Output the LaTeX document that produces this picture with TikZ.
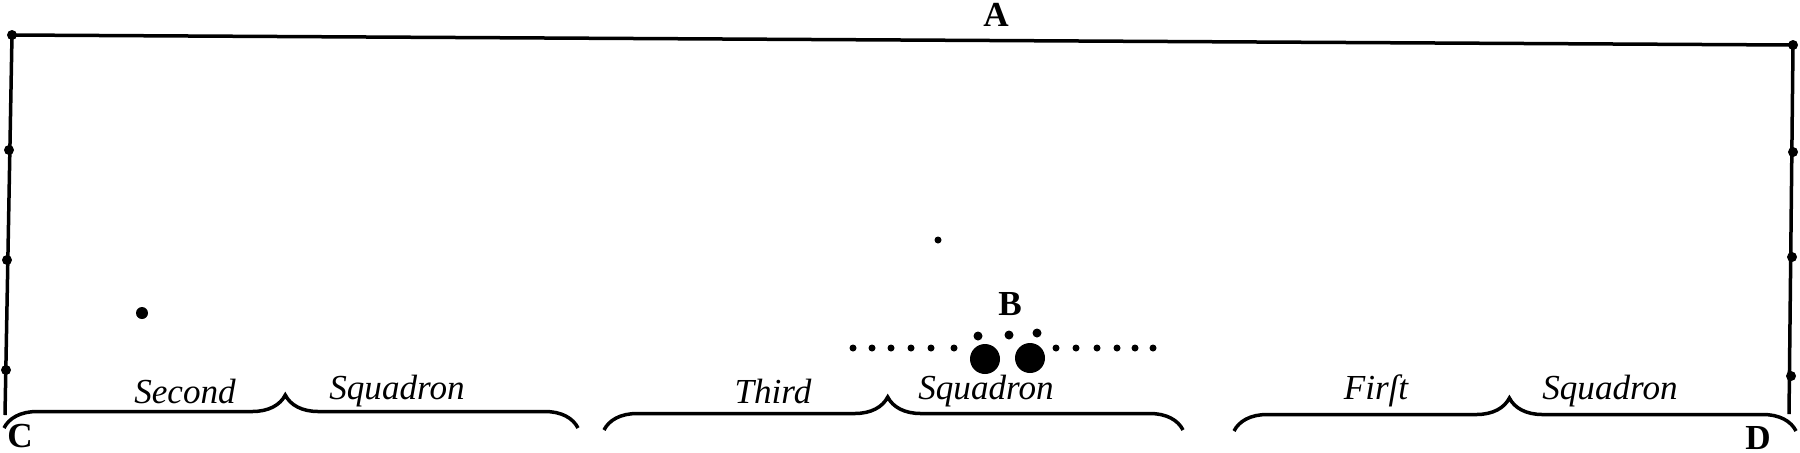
\documentclass[tikz,border=0pt]{standalone}
\usepackage{fontspec}
\setmainfont{Liberation Serif}
\usetikzlibrary{decorations.pathreplacing}

\tikzset{
  squadbrace/.style={decorate,decoration={brace,amplitude=3.3mm,aspect=0.49},line width=0.35mm},
  squadlabel/.style={font=\fontsize{10}{12}\selectfont\itshape,inner sep=0pt},
  pointlabel/.style={font=\fontsize{10}{12}\selectfont\bfseries,inner sep=0pt},
  post/.style={circle,fill,inner sep=0pt,minimum size=1mm},
  file/.style={circle,fill,inner sep=0pt,minimum size=0.7mm},
  rank/.style={circle,fill,inner sep=0pt,minimum size=0.9mm},
  horse/.style={circle,fill,inner sep=0pt,minimum size=3mm},
}

\begin{document}
\begin{tikzpicture}[x=0.1mm,y=-0.1mm]
  \useasboundingbox (0,0) rectangle (1800,452);

  % the field
  \coordinate (tl) at (12,35);
  \coordinate (tr) at (1793,45);
  \coordinate (bl) at (5,415);
  \coordinate (br) at (1789,414);
  \draw [line width=0.35mm] (bl) -- (tl) -- (tr) -- (br);
  \node [post] (l0) at (tl) {};
  \node [post] (l1) at (9,150) {};
  \node [post] (l2) at (7,260) {};
  \node [post] (l3) at (6,370) {};
  \node [post] (r0) at (tr) {};
  \node [post] (r1) at (1793,152) {};
  \node [post] (r2) at (1792,257) {};
  \node [post] (r3) at (1791,376) {};

  \node [pointlabel] (A) at (996,15) {A};
  \node [pointlabel] (B) at (1010,304) {B};
  \node [pointlabel] (C) at (20,436) {C};
  \node [pointlabel] (D) at (1758,438) {D};

  % the squadrons
  \coordinate (s2l) at (4,428);
  \coordinate (s2r) at (578,428);
  \coordinate (s3l) at (604,430);
  \coordinate (s3r) at (1183,430);
  \coordinate (s1l) at (1234,431);
  \coordinate (s1r) at (1796,431);
  \draw [squadbrace] (s2l) -- (s2r);
  \draw [squadbrace] (s3l) -- (s3r);
  \draw [squadbrace] (s1l) -- (s1r);

  \node [squadlabel] (second) at (185,391) {Second};
  \node [squadlabel] (sq2) at (397,391) {Squadron};
  \node [squadlabel] (third) at (773,391) {Third};
  \node [squadlabel] (sq3) at (986,391) {Squadron};
  \node [squadlabel] (first) at (1376,391) {Firſt};
  \node [squadlabel] (sq1) at (1610,391) {Squadron};

  % the line at B
  \foreach \x [count=\i] in {853,872,891,911,931,954}
    \node [file] (fl\i) at (\x,348) {};
  \foreach \x [count=\i] in {1056,1076,1097,1117,1135,1153}
    \node [file] (fr\i) at (\x,348) {};
  \node [rank] (k1) at (978,336) {};
  \node [rank] (k2) at (1009,335) {};
  \node [rank] (k3) at (1037,333) {};
  \node [horse] (h1) at (985,359) {};
  \node [horse] (h2) at (1030,358) {};

  \node [circle,fill,inner sep=0pt,minimum size=1.2mm] (m1) at (142,313) {};
  \node [file] (m2) at (938,240) {};
\end{tikzpicture}
\end{document}
